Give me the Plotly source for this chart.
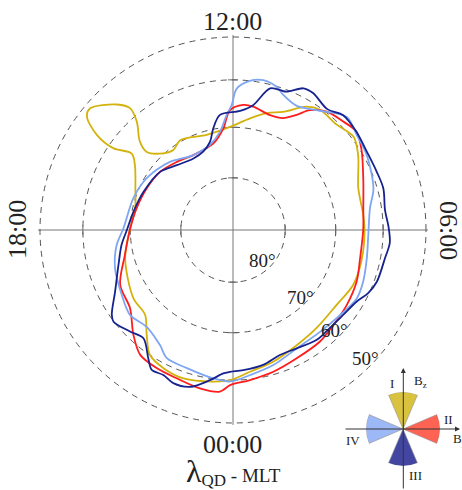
import numpy as np
import plotly.graph_objects as go

# ---------------- data (MLT in hours, latitude in degrees) ----------------
navy_mlt = [23.92, 0.28, 0.84, 1.37, 1.89, 2.49, 2.98, 3.49, 3.99, 4.33, 4.68, 5.31, 5.69, 6.08, 6.5, 7.03,
            7.47, 8.03, 8.57, 9.08, 9.47, 9.98, 10.24, 10.59, 11.02, 11.39, 11.77, 12.43, 12.73, 12.97, 13.39,
            13.93, 14.73, 15.43, 16.46, 17.31, 18.0, 18.51, 19.13, 19.84, 20.33, 20.5, 20.97, 21.36, 21.77,
            21.99, 22.29, 22.58, 22.98, 23.42, 23.74]
navy_lat = [61.8, 62.1, 62.6, 63.6, 63.4, 62.6, 62.7, 62.4, 61.6, 60.2, 59.4, 59.0, 58.4, 58.8, 59.3, 58.7,
            58.9, 58.9, 58.3, 58.0, 59.3, 58.1, 58.2, 60.4, 60.8, 65.1, 66.6, 67.3, 69.8, 72.3, 73.8,
            74.2, 73.4, 71.9, 71.1, 70.3, 69.3, 68.0, 66.5, 63.7, 60.5, 59.9, 61.2, 62.1, 59.2,
            57.4, 57.6, 56.8, 57.2, 59.6, 61.4]

lblue_mlt = [23.93, 0.45, 1.11, 1.89, 2.7, 3.43, 4.07, 4.56, 5.2, 5.86, 6.6, 7.1, 7.95, 8.5, 8.99, 9.6,
             10.2, 10.64, 10.87, 11.24, 11.57, 11.9, 12.04, 12.21, 12.5, 13.01, 13.86, 14.85, 15.45, 16.11,
             16.83, 17.94, 18.49, 19.2, 20.02, 20.63, 21.22, 21.84, 22.18, 22.77, 23.5]
lblue_lat = [59.7, 60.9, 62.0, 63.4, 63.5, 62.9, 61.9, 62.2, 62.9, 63.2, 62.5, 60.8, 59.3, 58.7, 57.7, 60.6,
             62.3, 61.3, 60.1, 59.4, 60.0, 61.9, 65.4, 67.4, 70.7, 72.9, 73.6, 72.0, 71.1, 70.2,
             69.6, 68.6, 67.0, 65.6, 64.6, 63.6, 64.4, 63.0, 61.3, 61.0, 60.1]

red_mlt = [23.93, 0.43, 1.06, 1.76, 2.53, 3.11, 3.77, 4.49, 5.16, 6.0, 6.63, 7.4, 8.13, 8.57, 8.97, 9.44,
           9.82, 10.07, 10.39, 10.81, 11.38, 11.69, 12.1, 12.36, 12.85, 13.86, 14.63, 15.43, 16.28, 17.15,
           18.0, 18.87, 19.73, 20.48, 21.1, 21.56, 22.07, 22.61, 23.21, 23.69]
red_lat = [58.9, 59.8, 60.6, 61.5, 61.9, 62.6, 63.0, 63.5, 64.3, 64.3, 63.9, 62.3, 59.7, 58.3, 59.0, 59.8,
           61.7, 64.0, 65.9, 66.3, 65.4, 65.3, 66.5, 70.1, 72.8, 73.6, 72.9, 71.9, 71.4, 70.8,
           69.9, 68.3, 65.3, 64.5, 61.2, 58.8, 58.3, 58.1, 57.4, 57.3]

yellow_mlt = [23.93, 0.46, 1.13, 1.93, 2.69, 3.6, 4.36, 5.08, 5.95, 6.44, 7.23, 8.07, 8.52, 9.03, 9.61, 9.94,
              10.47, 10.93, 11.42, 12.11, 13.03, 14.03, 14.45, 14.82, 15.19, 15.1, 14.77, 14.68, 14.85, 15.31,
              15.48, 15.67, 15.71, 15.53, 15.76, 16.46, 17.17, 18.0, 18.98, 20.29, 20.93, 21.37, 21.76, 22.22,
              22.77, 23.5]
yellow_lat = [60.0, 61.6, 62.7, 64.0, 64.6, 64.8, 63.9, 63.9, 64.0, 64.1, 63.9, 60.9, 59.5, 60.5, 60.4, 61.4,
              64.7, 66.1, 67.9, 69.9, 70.8, 69.7, 70.6, 69.8, 67.2, 64.7, 61.1, 57.9, 55.3, 51.3,
              52.0, 56.4, 61.1, 65.0, 66.9, 69.3, 70.5, 69.9, 68.2, 66.3, 66.0, 63.1, 60.0, 59.0,
              58.6, 59.4]

circle_lats = [80, 70, 60, 50]
circle_labels = ["80°", "70°", "60°", "50°"]
mlt_hours = [0, 6, 12, 18]
mlt_labels = ["00:00", "06:00", "12:00", "18:00"]

sector_names = ["I", "II", "III", "IV"]
sector_angles = [90, 0, 270, 180]
sector_colors = ["#d6bd2e", "#ff5646", "#34379a", "#94b2f6"]

# ---------------- figure ----------------
W, H = 462, 490
cx, cy, R = 233, 230, 193.0
rmax_data = np.cos(np.radians(50))
rng = rmax_data * 1.01
Rd = R * rng / rmax_data

def rr(lat):
    return np.cos(np.radians(np.asarray(lat, dtype=float)))

fig = go.Figure()

# small tick marks where the dashed circles cross the axis lines
for h in mlt_hours:
    sym = "line-ew" if h in (0, 12) else "line-ns"
    fig.add_trace(go.Scatterpolar(r=rr(circle_lats[:3]), theta=[h * 15.0] * 3, mode="markers",
                                  marker=dict(symbol=sym, size=7, line=dict(color="#666", width=1)),
                                  subplot="polar", showlegend=False, hoverinfo="skip"))

curves = [(yellow_mlt, yellow_lat, "#d4b20c"),
          (red_mlt, red_lat, "#ff1c1c"),
          (lblue_mlt, lblue_lat, "#7ea6f2"),
          (navy_mlt, navy_lat, "#16238f")]
for m, la, col in curves:
    m = list(m) + [m[0]]
    la = list(la) + [la[0]]
    fig.add_trace(go.Scatterpolar(r=rr(la), theta=np.array(m) * 15.0, mode="lines",
                                  line=dict(color=col, width=1.8, shape="spline", smoothing=0.9),
                                  subplot="polar", showlegend=False, hoverinfo="skip"))

fig.add_trace(go.Barpolar(r=[1, 1, 1, 1], theta=sector_angles, width=[46] * 4,
                          marker=dict(color=sector_colors, line=dict(color="#888", width=0.6)),
                          opacity=0.92, subplot="polar2", showlegend=False, hoverinfo="skip"))

serif = "Liberation Serif"
fig.update_layout(
    width=W, height=H, margin=dict(l=0, r=0, t=0, b=0),
    paper_bgcolor="white", plot_bgcolor="white", showlegend=False,
    polar=dict(
        domain=dict(x=[(cx - Rd) / W, (cx + Rd) / W], y=[(H - cy - Rd) / H, (H - cy + Rd) / H]),
        bgcolor="rgba(0,0,0,0)",
        radialaxis=dict(range=[0, rng], tickmode="array", tickvals=list(rr(circle_lats)),
                        showticklabels=False, ticks="", showline=False,
                        gridcolor="#555", gridwidth=1, griddash="6px,5px"),
        angularaxis=dict(rotation=270, direction="counterclockwise", tickmode="array",
                         tickvals=[h * 15 for h in mlt_hours], showticklabels=False, ticks="",
                         showline=False, gridcolor="#777", gridwidth=1),
    ),
    polar2=dict(
        domain=dict(x=[(403 - 37) / W, (403 + 37) / W], y=[(H - 429 - 37) / H, (H - 429 + 37) / H]),
        bgcolor="rgba(0,0,0,0)",
        radialaxis=dict(range=[0, 1], visible=False, showgrid=False),
        angularaxis=dict(visible=False, showgrid=False, showline=False, showticklabels=False, ticks=""),
    ),
)

ann = []
def txt(x, y, s, size, angle=0, xanchor="center", color="#222"):
    ann.append(dict(x=x / W, y=1 - y / H, xref="paper", yref="paper", text=s, showarrow=False,
                    font=dict(family=serif, size=size, color=color), textangle=angle,
                    xanchor=xanchor, yanchor="middle"))

txt(233, 444, mlt_labels[0], 26)
txt(449, 230, mlt_labels[1], 26, angle=90)
txt(233, 22, mlt_labels[2], 26)
txt(17, 230, mlt_labels[3], 26, angle=-90)

for (x, y), s in zip([(262.5, 260.5), (300, 297.5), (334, 330.5), (365.5, 358)], circle_labels):
    txt(x, y, s, 19)

txt(234, 471, '<span style="font-size:32px">λ</span><sub><span style="font-size:17px">QD</span></sub> - MLT', 19)

# inset labels
txt(392, 383, sector_names[0], 13)
txt(448, 419, sector_names[1], 13)
txt(415, 475, sector_names[2], 13)
txt(353, 440, sector_names[3], 13)
txt(412, 381, "B<sub>z</sub>", 13, xanchor="left")
txt(451, 439, "B<sub>y</sub>", 13, xanchor="left")

# inset axes arrows
ann.append(dict(x=403.3 / W, y=1 - 368 / H, xref="paper", yref="paper", text="", showarrow=True,
                ax=0, ay=124, arrowhead=2, arrowsize=1, arrowwidth=1, arrowcolor="#333"))
ann.append(dict(x=460 / W, y=1 - 429 / H, xref="paper", yref="paper", text="", showarrow=True,
                ax=-116, ay=0, arrowhead=2, arrowsize=1, arrowwidth=1, arrowcolor="#333"))

fig.update_layout(annotations=ann)
fig.write_html("out.html", config={"displayModeBar": False},
               post_script="document.body.style.margin='0';document.body.style.overflow='hidden';")
